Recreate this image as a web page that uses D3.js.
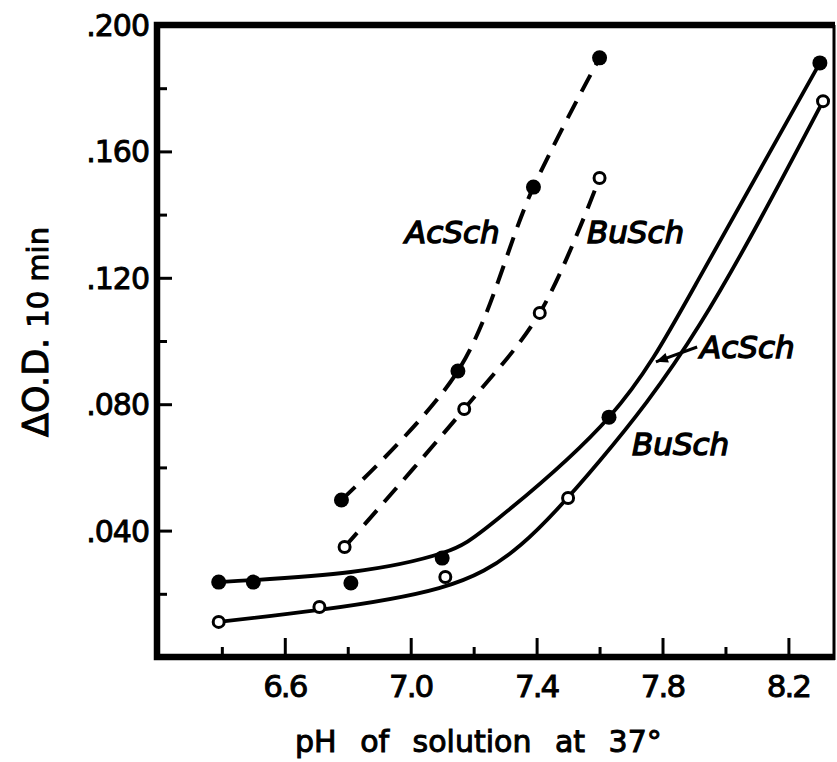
<!DOCTYPE html>
<html>
<head>
<meta charset="utf-8">
<script src="https://cdn.jsdelivr.net/npm/d3@7/dist/d3.min.js"></script>
<style>
  html, body { margin: 0; padding: 0; background: #fff; }
  svg { display: block; }
  text { font-family: "DejaVu Sans", sans-serif; fill: #000; }
</style>
</head>
<body>
<svg id="chart" width="837" height="762"></svg>
<script>
// Tick values and labels
const xMajor = [6.6, 7.0, 7.4, 7.8, 8.2];
const xMinor = [6.4, 6.8, 7.2, 7.6, 8.0];
const xLabels = ["6.6", "7.0", "7.4", "7.8", "8.2"];
const yMajor = [0.04, 0.08, 0.12, 0.16, 0.20];
const yMinor = [0.02, 0.06, 0.10, 0.14, 0.18];
const yLabels = [".040", ".080", ".120", ".160", ".200"];

// Measured points: [pH, delta O.D. per 10 min]
const acschLow  = [[6.39, 0.0237], [6.50, 0.0237], [6.81, 0.0234], [7.10, 0.0313], [7.63, 0.0759], [8.30, 0.1880]];
const buschLow  = [[6.39, 0.0111], [6.71, 0.0158], [7.11, 0.0253], [7.50, 0.0503], [8.31, 0.1759]];
const acschHigh = [[6.78, 0.0497], [7.15, 0.0905], [7.39, 0.1487], [7.60, 0.1896]];
const buschHigh = [[6.79, 0.0348], [7.17, 0.0785], [7.41, 0.1089], [7.60, 0.1516]];

// Smoothed curves drawn through the solid-line series
const acschFit = [[6.39, 0.0237], [6.81, 0.0269], [7.10, 0.0329], [7.28, 0.0440],
                  [7.63, 0.0759], [7.91, 0.1187], [8.30, 0.1880]];
const buschFit = [[6.39, 0.0111], [6.71, 0.0149], [7.09, 0.0218], [7.35, 0.0355],
                  [7.60, 0.0620], [7.92, 0.1055], [8.31, 0.1759]];

// Curve labels: [text, pH, value]
const curveLabels = [["AcSch", 6.982, 0.1310], ["BuSch", 7.560, 0.1310],
                     ["AcSch", 7.919, 0.0946], ["BuSch", 7.703, 0.0639]];
const pointer = [[7.910, 0.0981], [7.779, 0.0934]];

const svg = d3.select("#chart");
const plotLeft = 157, plotRight = 835, plotTop = 25, plotBottom = 657;

const x = d3.scaleLinear().domain([6.194, 8.348]).range([plotLeft, plotRight]);
const y = d3.scaleLinear().domain([0, 0.2]).range([plotBottom, plotTop]);

// Frame: heavy left/top/bottom, light right edge
svg.append("path")
  .attr("d", `M${plotRight},${plotBottom} H${plotLeft} V${plotTop} H${plotRight}`)
  .attr("fill", "none").attr("stroke", "#000").attr("stroke-width", 6.5)
  .attr("stroke-linejoin", "miter");
svg.append("line")
  .attr("x1", plotRight - 1).attr("x2", plotRight - 1).attr("y1", plotTop).attr("y2", plotBottom + 3)
  .attr("stroke", "#000").attr("stroke-width", 3);

// Inward ticks
function styleAxis(g) {
  g.select(".domain").remove();
  g.selectAll(".tick line").attr("stroke", "#000").attr("stroke-width", 3);
  g.selectAll(".tick text").remove();
}
svg.append("g").attr("transform", `translate(0,${plotBottom})`)
  .call(d3.axisBottom(x).tickValues(xMajor).tickSize(-19)).call(styleAxis);
svg.append("g").attr("transform", `translate(0,${plotBottom})`)
  .call(d3.axisBottom(x).tickValues(xMinor).tickSize(-10)).call(styleAxis);
svg.append("g").attr("transform", `translate(${plotLeft},0)`)
  .call(d3.axisLeft(y).tickValues(yMajor.slice(0, 4)).tickSize(-15)).call(styleAxis);
svg.append("g").attr("transform", `translate(${plotLeft},0)`)
  .call(d3.axisLeft(y).tickValues(yMinor).tickSize(-10)).call(styleAxis);

// Tick labels
svg.append("g").selectAll("text").data(xMajor).join("text")
  .attr("x", d => x(d)).attr("y", 697)
  .attr("text-anchor", "middle").attr("font-size", 31)
  .attr("letter-spacing", -2)
  .attr("stroke", "#000").attr("stroke-width", 0.9)
  .text((d, i) => xLabels[i]);
svg.append("g").selectAll("text").data(yMajor).join("text")
  .attr("x", 149).attr("y", d => y(d) + 11)
  .attr("text-anchor", "end").attr("font-size", 30)
  .attr("letter-spacing", -1)
  .attr("stroke", "#000").attr("stroke-width", 0.9)
  .text((d, i) => yLabels[i]);

// Axis titles
svg.append("text")
  .attr("x", 295).attr("y", 752)
  .attr("font-size", 30).attr("word-spacing", 14)
  .attr("stroke", "#000").attr("stroke-width", 1)
  .text("pH of solution at 37°");

const yt = svg.append("text")
  .attr("transform", "translate(48,332) rotate(-90)")
  .attr("text-anchor", "middle")
  .attr("stroke", "#000").attr("stroke-width", 1);
yt.append("tspan").attr("font-size", 35).text("ΔO.D.");
yt.append("tspan").attr("font-size", 29).attr("dx", 10).text("10 min");

// Lines
const smooth = d3.line().x(d => x(d[0])).y(d => y(d[1])).curve(d3.curveNatural);
const dashed = d3.line().x(d => x(d[0])).y(d => y(d[1])).curve(d3.curveCatmullRom.alpha(0.5));
svg.append("path").datum(acschFit).attr("d", smooth)
  .attr("fill", "none").attr("stroke", "#000").attr("stroke-width", 3.8);
svg.append("path").datum(buschFit).attr("d", smooth)
  .attr("fill", "none").attr("stroke", "#000").attr("stroke-width", 3.8);
svg.append("path").datum(acschHigh).attr("d", dashed)
  .attr("fill", "none").attr("stroke", "#000").attr("stroke-width", 4)
  .attr("stroke-dasharray", "19,11");
svg.append("path").datum(buschHigh).attr("d", dashed)
  .attr("fill", "none").attr("stroke", "#000").attr("stroke-width", 4)
  .attr("stroke-dasharray", "19,11");

// Markers
function filled(data) {
  svg.append("g").selectAll("circle").data(data).join("circle")
    .attr("cx", d => x(d[0])).attr("cy", d => y(d[1])).attr("r", 7.5).attr("fill", "#000");
}
function open(data) {
  svg.append("g").selectAll("circle").data(data).join("circle")
    .attr("cx", d => x(d[0])).attr("cy", d => y(d[1])).attr("r", 5.5)
    .attr("fill", "#fff").attr("stroke", "#000").attr("stroke-width", 3);
}
filled(acschLow); filled(acschHigh);
open(buschLow); open(buschHigh);

// Curve labels
svg.append("g").selectAll("text").data(curveLabels).join("text")
  .attr("x", d => x(d[1])).attr("y", d => y(d[2]))
  .attr("font-size", 31).attr("font-style", "italic")
  .attr("stroke", "#000").attr("stroke-width", 1.4)
  .text(d => d[0]);

// Pointer arrow from label to curve
const [p0, p1] = pointer;
const ax0 = x(p0[0]), ay0 = y(p0[1]), ax1 = x(p1[0]), ay1 = y(p1[1]);
svg.append("line").attr("x1", ax0).attr("y1", ay0).attr("x2", ax1).attr("y2", ay1)
  .attr("stroke", "#000").attr("stroke-width", 3);
const ang = Math.atan2(ay1 - ay0, ax1 - ax0);
const hl = 12, hw = 5;
const bx = ax1 - hl * Math.cos(ang), by = ay1 - hl * Math.sin(ang);
svg.append("path")
  .attr("d", `M${ax1},${ay1} L${bx - hw * Math.sin(ang)},${by + hw * Math.cos(ang)} L${bx + hw * Math.sin(ang)},${by - hw * Math.cos(ang)} Z`)
  .attr("fill", "#000");
</script>
</body>
</html>
